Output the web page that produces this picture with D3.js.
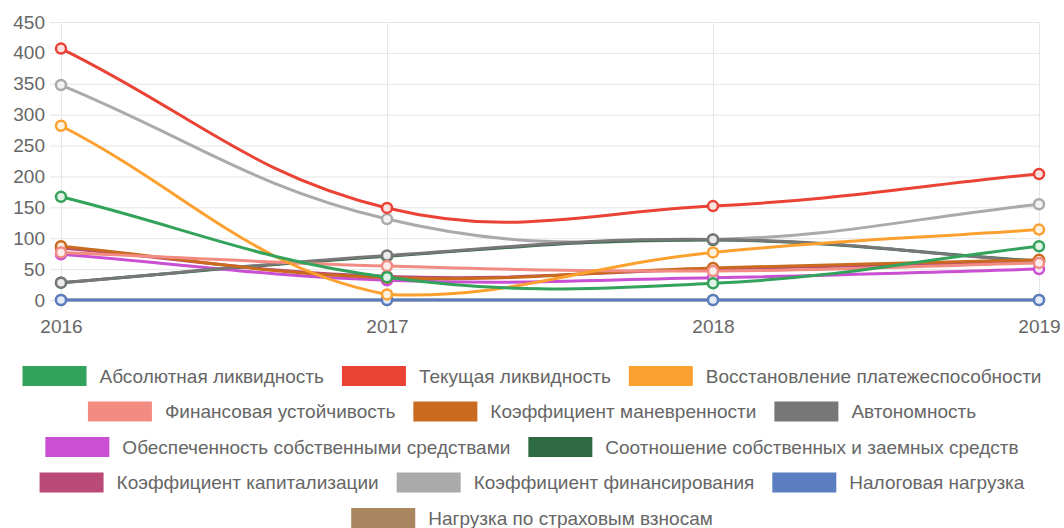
<!DOCTYPE html>
<html>
<head>
<meta charset="utf-8">
<script src="https://cdn.jsdelivr.net/npm/d3@7"></script>
<style>
  body { margin: 0; background: #fff; }
  text { font-family: "Liberation Sans", Arial, sans-serif; fill: #666; }
</style>
</head>
<body>
<script>
// years on the x axis
const years = ['2016', '2017', '2018', '2019'];
const yTicks = [0, 50, 100, 150, 200, 250, 300, 350, 400, 450];

// series names, colours, values
const names = [
  'Абсолютная ликвидность',
  'Текущая ликвидность',
  'Восстановление платежеспособности',
  'Финансовая устойчивость',
  'Коэффициент маневренности',
  'Автономность',
  'Обеспеченность собственными средствами',
  'Соотношение собственных и заемных средств',
  'Коэффициент капитализации',
  'Коэффициент финансирования',
  'Налоговая нагрузка',
  'Нагрузка по страховым взносам'
];
const colors = ['#33a25a', '#ea4335', '#fca02f', '#f28b82', '#c96a1e', '#777777',
  '#c94fd3', '#2e6b45', '#b94b76', '#aaaaaa', '#5a7ec0', '#a88660'];

const absLiq    = [167, 37, 27, 87];
const curLiq    = [407, 149, 152, 204];
const restore   = [282, 9, 77, 114];
const finStab   = [77, 55, 47, 60];
const maneuver  = [87, 36, 52, 65];
const autonomy  = [28, 72, 98, 62];
const ownFunds  = [74, 32, 36, 50];
const ratio     = [28, 71, 97, 63];
const capital   = [84, 38, 50, 63];
const financing = [348, 131, 98, 155];
const taxLoad   = [0, 0, 0, 0];
const insLoad   = [0, 0, 0, 0];

const seriesValues = [absLiq, curLiq, restore, finStab, maneuver, autonomy,
  ownFunds, ratio, capital, financing, taxLoad, insLoad];

const W = 1064, H = 528;
const plotL = 61, plotR = 1039, plotT = 22, plotB = 300;

const svg = d3.select('body').append('svg')
  .attr('width', W).attr('height', H);

const x = d3.scalePoint().domain(years).range([plotL, plotR]);
const y = d3.scaleLinear().domain([0, 450]).range([plotB, plotT]);

// grid
const grid = svg.append('g');
grid.selectAll('.hg').data(yTicks).enter().append('line')
  .attr('x1', plotL - 11).attr('x2', plotR)
  .attr('y1', d => y(d) + 0.5).attr('y2', d => y(d) + 0.5)
  .attr('stroke', '#e6e6e6').attr('stroke-width', 1);
grid.selectAll('.vg').data(years).enter().append('line')
  .attr('x1', d => x(d) + 0.5).attr('x2', d => x(d) + 0.5)
  .attr('y1', plotT).attr('y2', plotB + 10)
  .attr('stroke', '#e6e6e6').attr('stroke-width', 1);

// axes labels
const yAxis = svg.append('g')
  .attr('transform', `translate(${plotL - 11},0)`)
  .call(d3.axisLeft(y).tickValues(yTicks).tickSize(0).tickPadding(5));
yAxis.select('.domain').remove();
yAxis.selectAll('text').attr('font-size', 19).attr('fill', '#666')
  .attr('font-family', '"Liberation Sans", Arial, sans-serif');

const xAxis = svg.append('g')
  .attr('transform', `translate(0,${plotB + 10})`)
  .call(d3.axisBottom(x).tickSize(0).tickPadding(10));
xAxis.select('.domain').remove();
xAxis.selectAll('text').attr('font-size', 19).attr('fill', '#666')
  .attr('font-family', '"Liberation Sans", Arial, sans-serif');

// Chart.js style bezier (tension 0.4, distance weighted)
function splinePath(pts, t) {
  const clampY = v => Math.max(plotT, Math.min(plotB, v));
  const cps = pts.map((cur, i) => {
    const prev = pts[i - 1] || cur, next = pts[i + 1] || cur;
    const d01 = Math.hypot(cur[0] - prev[0], cur[1] - prev[1]);
    const d12 = Math.hypot(next[0] - cur[0], next[1] - cur[1]);
    let s01 = d01 / (d01 + d12), s12 = d12 / (d01 + d12);
    if (isNaN(s01)) s01 = 0;
    if (isNaN(s12)) s12 = 0;
    const fa = t * s01, fb = t * s12;
    return {
      prev: [cur[0] - fa * (next[0] - prev[0]), clampY(cur[1] - fa * (next[1] - prev[1]))],
      next: [cur[0] + fb * (next[0] - prev[0]), clampY(cur[1] + fb * (next[1] - prev[1]))]
    };
  });
  let d = `M${pts[0][0]},${pts[0][1]}`;
  for (let i = 1; i < pts.length; i++) {
    d += `C${cps[i - 1].next[0]},${cps[i - 1].next[1]},${cps[i].prev[0]},${cps[i].prev[1]},${pts[i][0]},${pts[i][1]}`;
  }
  return d;
}

// draw in reverse so the first dataset is on top
const order = d3.range(names.length).reverse();
const lines = svg.append('g');
order.forEach(i => {
  const pts = seriesValues[i].map((v, j) => [x(years[j]), y(v)]);
  const g = lines.append('g');
  g.append('path')
    .attr('d', splinePath(pts, 0.4))
    .attr('fill', 'none')
    .attr('stroke', colors[i])
    .attr('stroke-width', 3);
  g.selectAll('circle.bg').data(pts).enter().append('circle')
    .attr('cx', d => d[0]).attr('cy', d => d[1]).attr('r', 5)
    .attr('fill', '#fff');
  g.selectAll('circle.pt').data(pts).enter().append('circle')
    .attr('cx', d => d[0]).attr('cy', d => d[1]).attr('r', 5)
    .attr('fill', colors[i]).attr('fill-opacity', 0.15)
    .attr('stroke', colors[i]).attr('stroke-width', 2.5);
});

// legend, wrapped and centred like Chart.js
const boxW = 64, boxH = 20, gap = 13, itemPad = 18, fontSize = 19;
const legend = svg.append('g');
const measure = legend.append('text').attr('font-size', fontSize);
const widths = names.map(n => {
  measure.text(n);
  return boxW + gap + measure.node().getComputedTextLength();
});
measure.remove();

const rows = [[]];
let rowW = 0;
const maxW = W - 10;
names.forEach((n, i) => {
  const w = widths[i];
  const cur = rows[rows.length - 1];
  if (cur.length && rowW + itemPad + w > maxW) {
    rows.push([i]);
    rowW = w;
  } else {
    rowW += (cur.length ? itemPad : 0) + w;
    cur.push(i);
  }
});

const rowY0 = 376, rowStep = 35.5;
rows.forEach((row, r) => {
  const total = d3.sum(row, i => widths[i]) + itemPad * (row.length - 1);
  let cx = (W - total) / 2;
  const cy = rowY0 + r * rowStep;
  row.forEach(i => {
    legend.append('rect')
      .attr('x', cx).attr('y', cy - boxH / 2)
      .attr('width', boxW).attr('height', boxH)
      .attr('fill', colors[i]);
    legend.append('text')
      .attr('x', cx + boxW + gap).attr('y', cy)
      .attr('dy', '0.35em')
      .attr('font-size', fontSize)
      .text(names[i]);
    cx += widths[i] + itemPad;
  });
});
</script>
</body>
</html>
